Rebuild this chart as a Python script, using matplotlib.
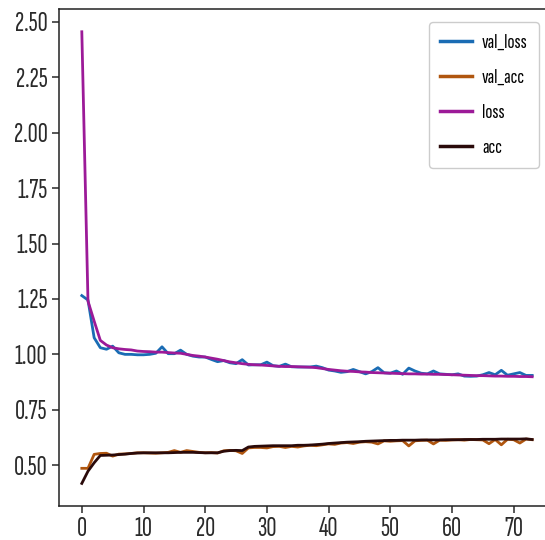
import matplotlib
matplotlib.use("Agg")
import matplotlib.pyplot as plt

epochs = list(range(74))

val_loss = [1.265, 1.245, 1.075, 1.030, 1.023, 1.037, 1.007, 1.000, 1.000, 0.998,
            0.998, 1.000, 1.005, 1.034, 1.003, 1.003, 1.019, 1.000, 0.992, 0.988,
            0.988, 0.977, 0.967, 0.972, 0.962, 0.958, 0.976, 0.952, 0.953, 0.953,
            0.965, 0.949, 0.946, 0.956, 0.944, 0.943, 0.943, 0.943, 0.947, 0.940,
            0.929, 0.925, 0.919, 0.922, 0.932, 0.922, 0.912, 0.922, 0.940, 0.917,
            0.915, 0.925, 0.910, 0.938, 0.925, 0.915, 0.912, 0.925, 0.912, 0.910,
            0.908, 0.912, 0.902, 0.901, 0.902, 0.908, 0.918, 0.908, 0.928, 0.906,
            0.912, 0.918, 0.905, 0.905]

val_acc = [0.486, 0.486, 0.549, 0.553, 0.554, 0.541, 0.550, 0.551, 0.553, 0.556,
           0.556, 0.555, 0.554, 0.556, 0.558, 0.566, 0.558, 0.566, 0.562, 0.558,
           0.556, 0.557, 0.555, 0.565, 0.567, 0.565, 0.553, 0.578, 0.580, 0.580,
           0.578, 0.584, 0.585, 0.580, 0.585, 0.582, 0.587, 0.590, 0.588, 0.592,
           0.596, 0.594, 0.600, 0.602, 0.598, 0.604, 0.606, 0.604, 0.596, 0.610,
           0.608, 0.610, 0.611, 0.587, 0.610, 0.612, 0.613, 0.596, 0.613, 0.612,
           0.614, 0.615, 0.613, 0.616, 0.615, 0.614, 0.597, 0.616, 0.592, 0.617,
           0.615, 0.600, 0.618, 0.615]

loss = [2.455, 1.240, 1.150, 1.063, 1.042, 1.030, 1.025, 1.022, 1.020, 1.015,
        1.013, 1.012, 1.010, 1.010, 1.008, 1.006, 1.005, 1.000, 0.995, 0.992,
        0.988, 0.983, 0.978, 0.972, 0.966, 0.962, 0.958, 0.955, 0.953, 0.952,
        0.950, 0.948, 0.946, 0.945, 0.945, 0.944, 0.943, 0.942, 0.940, 0.936,
        0.932, 0.929, 0.926, 0.924, 0.923, 0.921, 0.920, 0.918, 0.917, 0.916,
        0.915, 0.914, 0.913, 0.912, 0.912, 0.911, 0.911, 0.910, 0.910, 0.909,
        0.908, 0.907, 0.906, 0.905, 0.904, 0.904, 0.903, 0.902, 0.902, 0.901,
        0.901, 0.900, 0.900, 0.899]

acc = [0.418, 0.473, 0.511, 0.544, 0.545, 0.546, 0.548, 0.550, 0.553, 0.555,
       0.556, 0.556, 0.556, 0.556, 0.556, 0.557, 0.558, 0.558, 0.558, 0.557,
       0.556, 0.556, 0.556, 0.563, 0.566, 0.567, 0.566, 0.582, 0.585, 0.586,
       0.587, 0.588, 0.588, 0.588, 0.588, 0.590, 0.590, 0.591, 0.593, 0.595,
       0.598, 0.600, 0.602, 0.604, 0.605, 0.606, 0.608, 0.609, 0.610, 0.611,
       0.612, 0.612, 0.613, 0.613, 0.613, 0.614, 0.614, 0.614, 0.614, 0.615,
       0.615, 0.615, 0.616, 0.616, 0.616, 0.617, 0.617, 0.617, 0.618, 0.618,
       0.618, 0.618, 0.619, 0.616]

series_names = ["val_loss", "val_acc", "loss", "acc"]
x_ticks = [0, 10, 20, 30, 40, 50, 60, 70]
y_ticks = [0.50, 0.75, 1.00, 1.25, 1.50, 1.75, 2.00, 2.25, 2.50]
colors = ["#1a6cb4", "#b0560f", "#9c1a98", "#2a0a0a"]

plt.rcParams["font.family"] = ["Sofia Sans Extra Condensed", "DejaVu Sans"]
TICK_FS = 20
LEG_FS = 15

fig = plt.figure(figsize=(5.45, 5.40), dpi=100)
ax = fig.add_axes([0.1088, 0.063, 0.909, 0.920])

for name, ys, c in zip(series_names, [val_loss, val_acc, loss, acc], colors):
    ax.plot(epochs, ys, color=c, lw=2.0, label=name)

ax.set_xticks(x_ticks)
ax.set_yticks(y_ticks)
ax.set_yticklabels([f"{v:.2f}" for v in y_ticks])
ax.tick_params(labelsize=TICK_FS, colors="#2a2a2a", length=5, width=1.1)
ax.tick_params(axis="x", pad=3)
for s in ax.spines.values():
    s.set_color("#222222")
    s.set_linewidth(1.1)

leg = ax.legend(loc="upper left", bbox_to_anchor=(0.787, 0.9587),
                bbox_transform=fig.transFigure, borderaxespad=0.0,
                fontsize=LEG_FS, handlelength=1.54, handletextpad=0.48,
                borderpad=0.53, labelspacing=0.79,
                framealpha=1.0, edgecolor="#cccccc")
for line in leg.get_lines():
    line.set_linewidth(2.5)

fig.savefig("out.png", dpi=100)
